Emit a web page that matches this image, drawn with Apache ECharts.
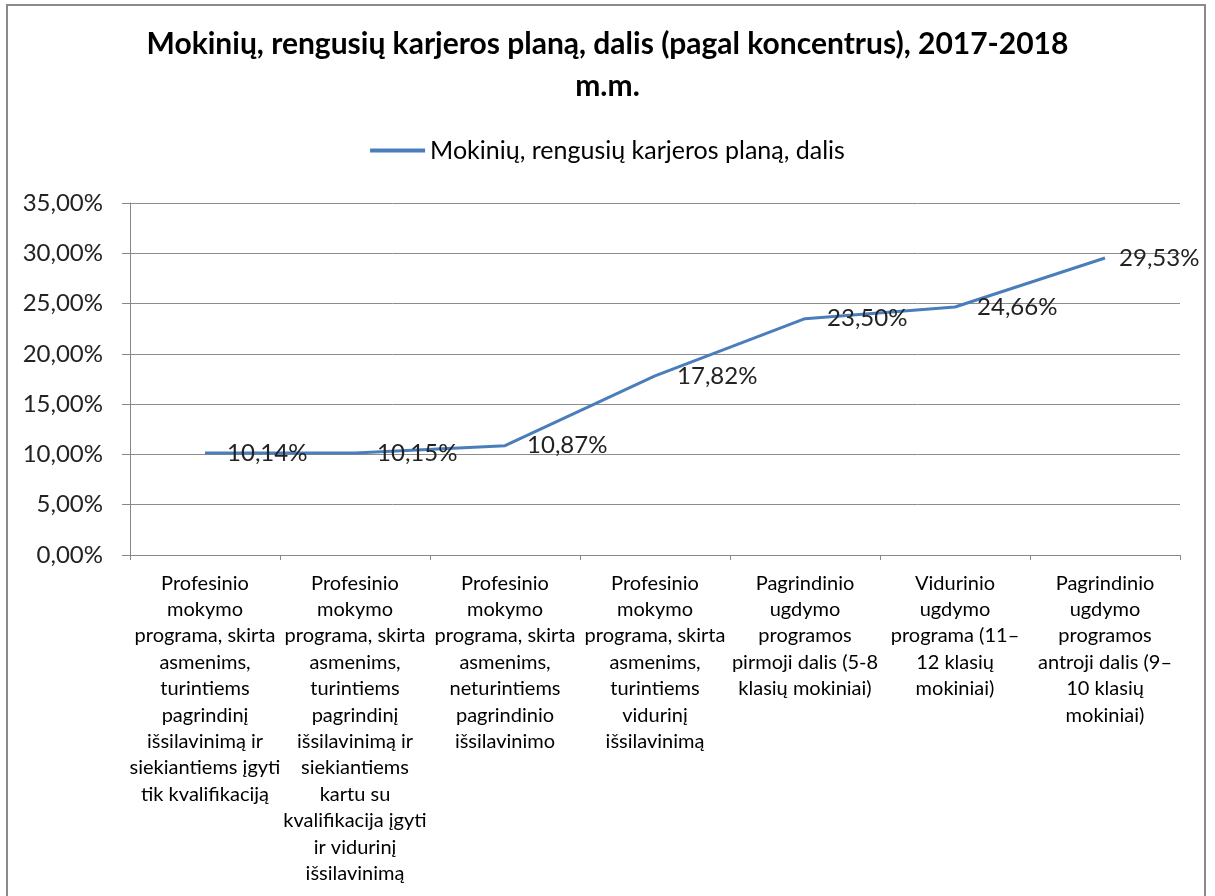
<!DOCTYPE html>
<html>
<head>
<meta charset="utf-8">
<script src="https://cdn.jsdelivr.net/npm/echarts@6/dist/echarts.min.js"></script>
<style>
  html, body { margin: 0; padding: 0; background: #fff; }
  #frame { position: absolute; left: 6px; top: 4px; width: 1200px; height: 900px; border: 2px solid #8a8a8a; box-sizing: border-box; }
  #chart { position: absolute; left: 0; top: 0; width: 1215px; height: 896px; }
</style>
</head>
<body>
<div id="frame"></div>
<div id="chart"></div>
<script>
const titleText = 'Mokinių, rengusių karjeros planą, dalis (pagal koncentrus), 2017-2018\nm.m.';
const seriesName = 'Mokinių, rengusių karjeros planą, dalis';

const categories = [
    'Profesinio\nmokymo\nprograma, skirta\nasmenims,\nturintiems\npagrindinį\nišsilavinimą ir\nsiekiantiems įgyti\ntik kvalifikaciją',
    'Profesinio\nmokymo\nprograma, skirta\nasmenims,\nturintiems\npagrindinį\nišsilavinimą ir\nsiekiantiems\nkartu su\nkvalifikacija įgyti\nir vidurinį\nišsilavinimą',
    'Profesinio\nmokymo\nprograma, skirta\nasmenims,\nneturintiems\npagrindinio\nišsilavinimo',
    'Profesinio\nmokymo\nprograma, skirta\nasmenims,\nturintiems\nvidurinį\nišsilavinimą',
    'Pagrindinio\nugdymo\nprogramos\npirmoji dalis (5-8\nklasių mokiniai)',
    'Vidurinio\nugdymo\nprograma (11–\n12 klasių\nmokiniai)',
    'Pagrindinio\nugdymo\nprogramos\nantroji dalis (9–\n10 klasių\nmokiniai)'
];

// percent values
const values = [10.14, 10.15, 10.87, 17.82, 23.50, 24.66, 29.53];

const yTicks = { min: 0, max: 35, interval: 5 };

const fmt = (v) => v.toFixed(2).replace('.', ',') + '%';

const myChart = echarts.init(document.getElementById('chart'));

// last label sits a bit closer to the line end
const seriesData = values.map((v, i) => {
    if (i === values.length - 1) {
        return { value: v, label: { distance: 14, offset: [0, 1] } };
    }
    return v;
});

const option = {
    animation: false,
    textStyle: { fontFamily: 'Lato' },
    title: {
        text: titleText,
        left: 'center',
        top: 18,
        textStyle: {
            fontFamily: 'Lato',
            fontSize: 30,
            fontWeight: 'bold',
            color: '#000',
            lineHeight: 42
        }
    },
    legend: {
        data: [seriesName],
        top: 133,
        left: 'center',
        itemWidth: 55,
        itemHeight: 4,
        icon: 'rect',
        textStyle: { fontSize: 25, color: '#000', fontFamily: 'Lato' }
    },
    grid: {
        left: 130,
        right: 35,
        top: 203,
        bottom: 341,
        containLabel: false
    },
    xAxis: {
        type: 'category',
        data: categories,
        boundaryGap: true,
        axisLine: { lineStyle: { color: '#888', width: 1 } },
        axisTick: { show: true, length: 5, alignWithLabel: false, lineStyle: { color: '#888' } },
        axisLabel: {
            interval: 0,
            margin: 15,
            fontSize: 20,
            lineHeight: 26.4,
            color: '#000',
            align: 'center'
        }
    },
    yAxis: {
        type: 'value',
        min: yTicks.min,
        max: yTicks.max,
        interval: yTicks.interval,
        axisLine: { show: true, lineStyle: { color: '#888', width: 1 } },
        axisTick: { show: true, length: 8, lineStyle: { color: '#888' } },
        splitLine: { lineStyle: { color: '#8c8c8c', width: 1 } },
        axisLabel: {
            fontSize: 24,
            color: '#222',
            margin: 27,
            formatter: fmt
        }
    },
    series: [
        {
            name: seriesName,
            type: 'line',
            data: seriesData,
            symbol: 'circle',
            symbolSize: 0.1,
            showSymbol: true,
            lineStyle: { color: '#4a7ebb', width: 3 },
            itemStyle: { color: '#4a7ebb' },
            label: {
                show: true,
                position: 'right',
                distance: 22,
                offset: [0, 3],
                fontSize: 24,
                color: '#222',
                formatter: (p) => fmt(p.value)
            },
            labelLayout: { hideOverlap: false }
        }
    ]
};

myChart.setOption(option);
</script>
</body>
</html>
